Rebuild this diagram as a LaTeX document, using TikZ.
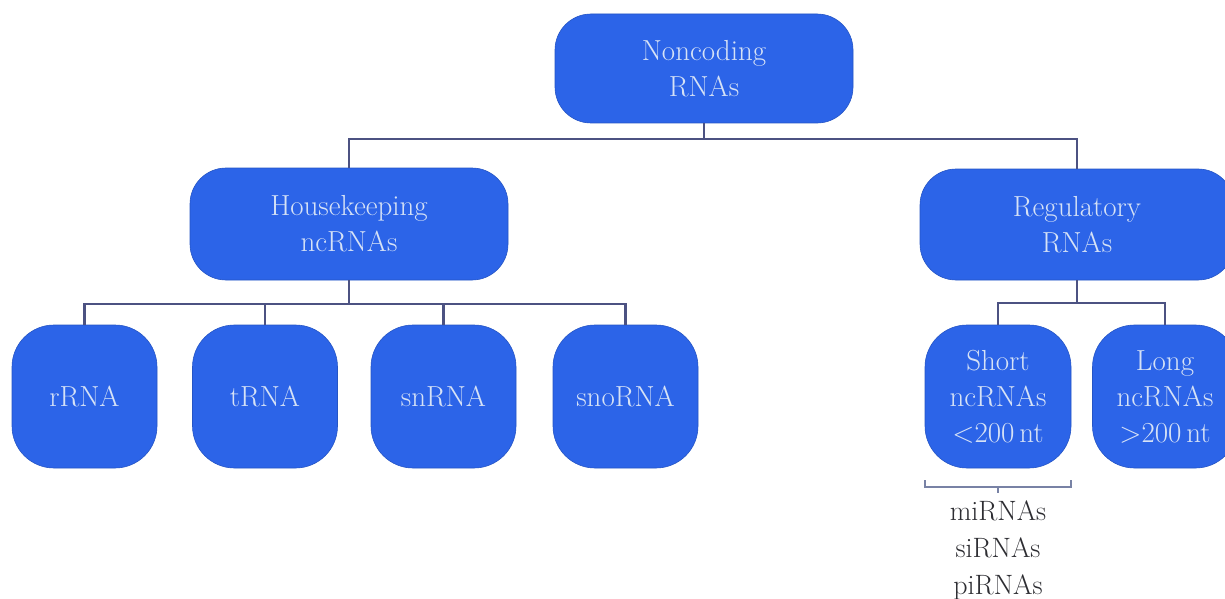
\documentclass[tikz,border=0pt]{standalone}
\usepackage{fontspec}
\definecolor{boxblue}{RGB}{44,100,232}
\definecolor{boxtext}{RGB}{214,226,246}
\definecolor{linecol}{RGB}{76,82,130}
\definecolor{bracecol}{RGB}{120,130,165}
\definecolor{lowtext}{RGB}{45,45,50}
\begin{document}
\begin{tikzpicture}[x=1pt,y=-1pt,
  bigbox/.style={draw=boxblue!85!black,line width=0.6pt,fill=boxblue,rounded corners=36pt,text=boxtext,align=center,
    font=\fontsize{29}{36}\selectfont,inner sep=0pt},
  smallbox/.style={bigbox,minimum width=145pt,minimum height=143pt,rounded corners=42pt},
  conn/.style={draw=linecol,line width=2.6pt},
  lowlabel/.style={text=lowtext,align=center,font=\fontsize{28}{37}\selectfont,inner sep=0pt}]
\useasboundingbox (0,0) rectangle (1225,599);
\fill[white] (0,0) rectangle (1225,599);
% top level
\node[bigbox,minimum width=298pt,minimum height=109pt] (nc) at (704,68.5) {Noncoding\\RNAs};
\node[bigbox,minimum width=318pt,minimum height=112pt] (hk) at (349,224) {Housekeeping\\ncRNAs};
\node[bigbox,minimum width=314pt,minimum height=111pt] (reg) at (1077,224.5) {Regulatory\\RNAs};
% housekeeping children
\node[smallbox] (rrna) at (84.5,396.5) {rRNA};
\node[smallbox] (trna) at (265,396.5) {tRNA};
\node[smallbox] (snrna) at (443.5,396.5) {snRNA};
\node[smallbox] (snorna) at (625.5,396.5) {snoRNA};
% regulatory children
\node[smallbox,minimum width=146pt] (short) at (998,396.5) {Short\\ncRNAs\\<200\,nt};
\node[smallbox] (long) at (1165,396.5) {Long\\ncRNAs\\>200\,nt};
% connectors
\coordinate (b1) at (704,139);
\coordinate (b2) at (349,304);
\coordinate (b3) at (1077,303);
\draw[conn] (nc.south) -- (b1);
\draw[conn] (hk.north) |- (b1) -| (reg.north);
\draw[conn] (hk.south) -- (b2);
\draw[conn] (rrna.north) |- (b2) -| (snorna.north);
\draw[conn] (trna.north) -- (trna.north |- b2);
\draw[conn] (snrna.north) -- (snrna.north |- b2);
\draw[conn] (reg.south) -- (b3);
\draw[conn] (short.north) |- (b3) -| (long.north);
% bracket under short ncRNAs
\coordinate (brl) at (925,480);
\coordinate (brr) at (1071,480);
\coordinate (brm) at (998,487);
\draw[draw=bracecol,line width=2pt] (brl) -- (brl |- brm) -- (brr |- brm) -- (brr);
\draw[draw=bracecol,line width=2pt] (brm) -- ++(0,6);
\node[lowlabel,anchor=north] (sub) at (998,500) {miRNAs\\siRNAs\\piRNAs};
\end{tikzpicture}
\end{document}
